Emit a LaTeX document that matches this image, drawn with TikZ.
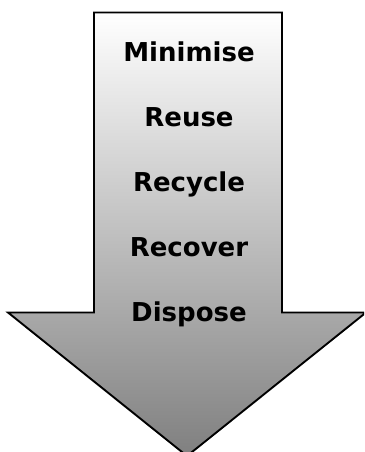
\documentclass[tikz,border=0pt]{standalone}
\usepackage{fontspec}
\setmainfont{DejaVu Sans}
\begin{document}
\begin{tikzpicture}[x=1pt,y=-1pt,
  lbl/.style={font=\bfseries\fontsize{26}{28}\selectfont, anchor=base, inner sep=0pt}]
\useasboundingbox (0,0) rectangle (364,452);
\clip (0,0) rectangle (364,452);
\draw[line width=1.9pt, top color=white, bottom color=black!50, line join=miter]
  (94,12.5) -- (282,12.5) -- (282,312.5) -- (366,312.5) -- (187,456) -- (8,312.5) -- (94,312.5) -- cycle;
\node[lbl] (m) at (189,61.7) {Minimise};
\node[lbl] (r1) at (189,126.7) {Reuse};
\node[lbl] (r2) at (189,191.7) {Recycle};
\node[lbl] (r3) at (189,256.7) {Recover};
\node[lbl] (d) at (189,321.7) {Dispose};
\end{tikzpicture}
\end{document}
